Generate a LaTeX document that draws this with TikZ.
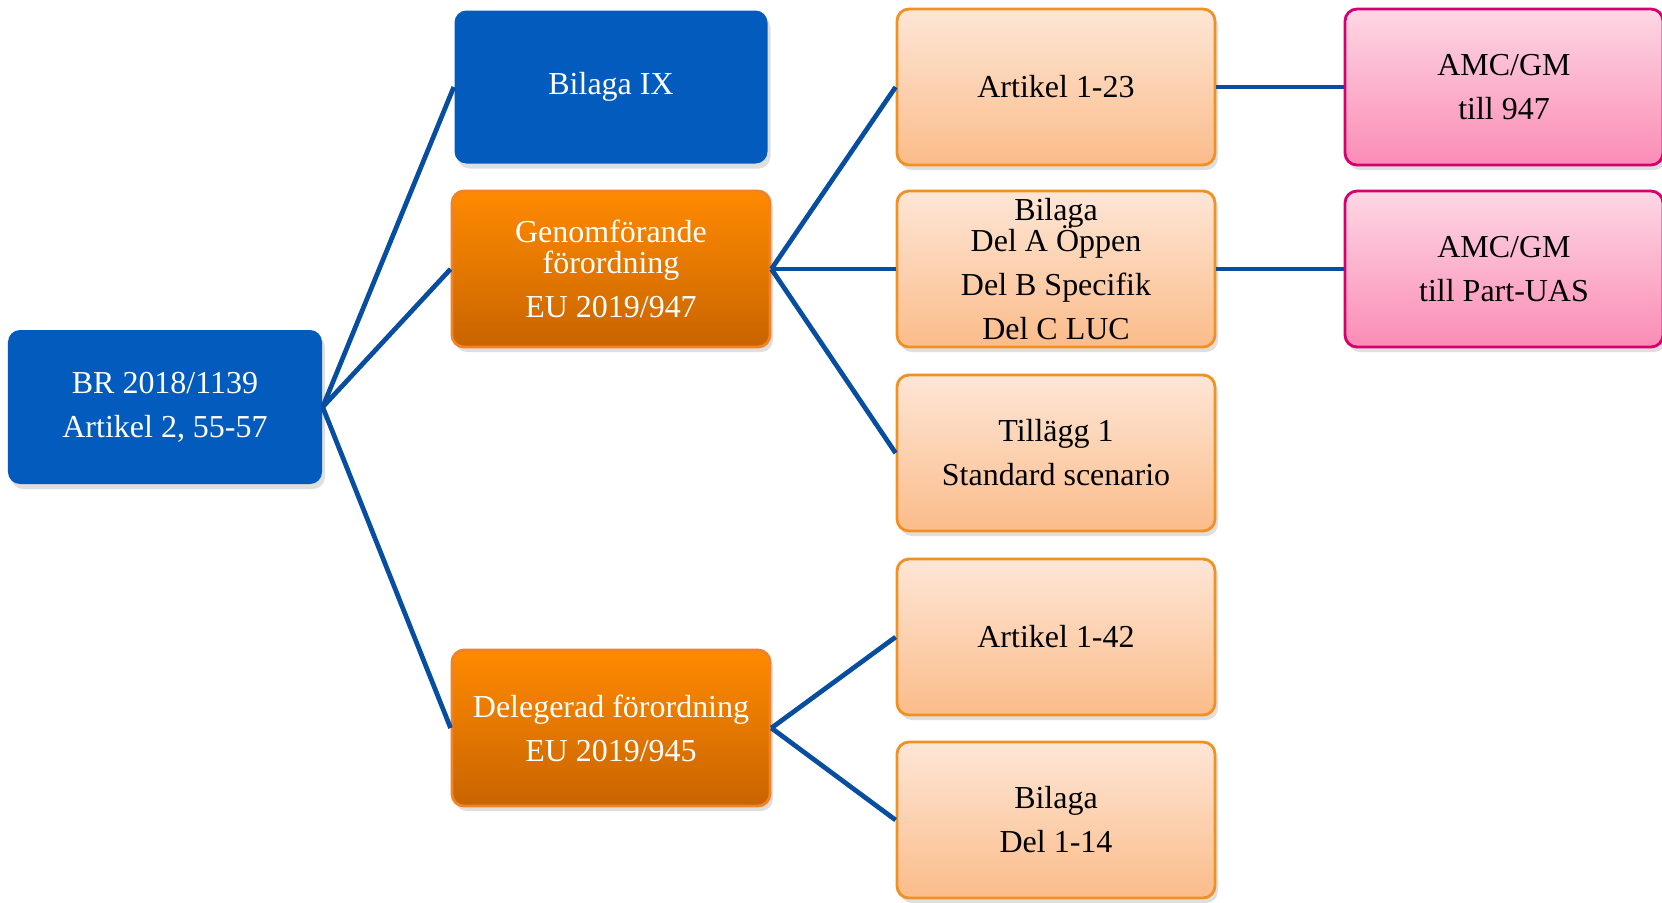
\documentclass[tikz,border=0pt]{standalone}
\usepackage{fontspec}
\setmainfont{Liberation Serif}
\usetikzlibrary{shadows}

\definecolor{boxblue}{RGB}{3,92,189}
\definecolor{linkblue}{RGB}{8,78,160}
\definecolor{darktop}{RGB}{255,138,0}
\definecolor{darkbottom}{RGB}{200,100,0}
\definecolor{darkline}{RGB}{240,130,40}
\definecolor{lighttop}{RGB}{253,230,214}
\definecolor{lightbottom}{RGB}{251,188,138}
\definecolor{lightline}{RGB}{240,145,35}
\definecolor{pinktop}{RGB}{253,215,228}
\definecolor{pinkbottom}{RGB}{251,140,181}
\definecolor{pinkline}{RGB}{212,0,110}

\tikzset{
	box/.style={rounded corners=0.12cm, minimum width=3.18cm, minimum height=1.56cm,
		align=center, inner sep=2pt, font=\fontsize{9.1}{12.5}\selectfont,
		drop shadow={opacity=0.25, shadow xshift=0.03cm, shadow yshift=-0.05cm}},
	bluebox/.style={box, fill=boxblue, text=white},
	darkbox/.style={box, draw=darkline, thick, top color=darktop, bottom color=darkbottom, text=white},
	lightbox/.style={box, draw=lightline, thick, top color=lighttop, bottom color=lightbottom, text=black},
	pinkbox/.style={box, draw=pinkline, thick, top color=pinktop, bottom color=pinkbottom, text=black},
	link/.style={draw=linkblue, line width=1.35pt}
}

\begin{document}
\begin{tikzpicture}

	\useasboundingbox (0,0) rectangle (16.62,-9.02);
	\clip (0,0) rectangle (16.62,-9.02);

	% root
	\node[bluebox, minimum width=3.14cm, minimum height=1.54cm] (br) at (1.65,-4.07) {BR 2018/1139\\Artikel 2, 55-57};

	%---------------------
	% middle column
	%---------------------
	\node[bluebox, minimum width=3.13cm, minimum height=1.53cm] (bix) at (6.11,-0.87) {Bilaga IX};
	\node[darkbox] (gen) at (6.11,-2.69) {Genomförande\\[-3.5pt]förordning\\EU 2019/947};
	\node[darkbox] (del) at (6.11,-7.28) {Delegerad förordning\\EU 2019/945};

	%---------------------
	% right column
	%---------------------
	\node[lightbox] (art23) at (10.56,-0.87) {Artikel 1-23};
	\node[lightbox] (bil947) at (10.56,-2.69) {Bilaga\\[-3.5pt]Del A Öppen\\Del B Specifik\\Del C LUC};
	\node[lightbox] (till) at (10.56,-4.53) {Tillägg 1\\Standard scenario};
	\node[lightbox] (art42) at (10.56,-6.37) {Artikel 1-42};
	\node[lightbox] (bil945) at (10.56,-8.20) {Bilaga\\Del 1-14};

	% AMC/GM
	\node[pinkbox] (amc947) at (15.04,-0.87) {AMC/GM\\till 947};
	\node[pinkbox] (amcuas) at (15.04,-2.69) {AMC/GM\\till Part-UAS};

	% links
	\draw[link] (br.east) -- (bix.west);
	\draw[link] (br.east) -- (gen.west);
	\draw[link] (br.east) -- (del.west);
	\draw[link] (gen.east) -- (art23.west);
	\draw[link] (gen.east) -- (bil947.west);
	\draw[link] (gen.east) -- (till.west);
	\draw[link] (del.east) -- (art42.west);
	\draw[link] (del.east) -- (bil945.west);
	\draw[link] (art23.east) -- (amc947.west);
	\draw[link] (bil947.east) -- (amcuas.west);

\end{tikzpicture}
\end{document}
